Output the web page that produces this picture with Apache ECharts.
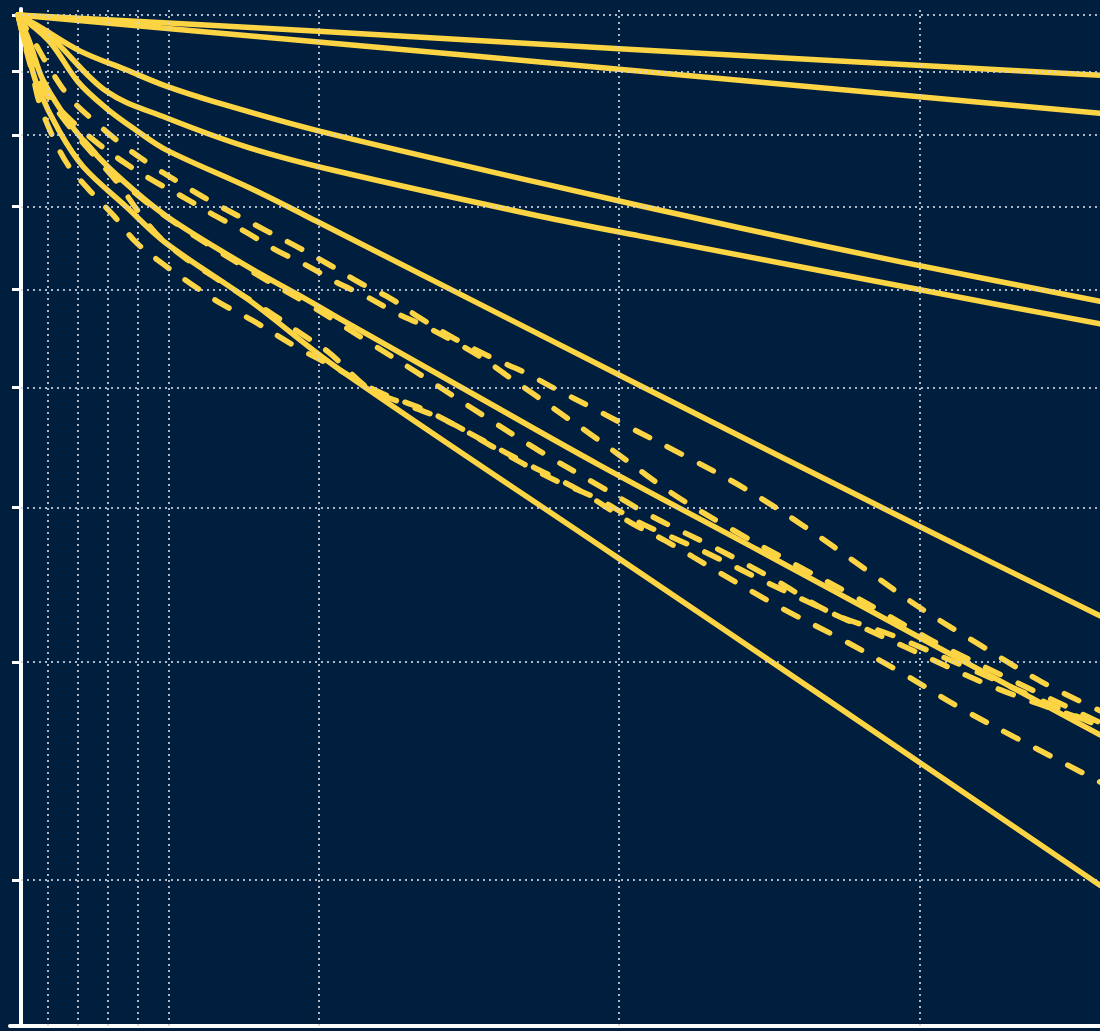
<!DOCTYPE html>
<html>
<head>
<meta charset="utf-8">
<script src="https://cdn.jsdelivr.net/npm/echarts@6/dist/echarts.min.js"></script>
<style>
  html, body { margin: 0; padding: 0; background: #001f3f; }
  #chart { width: 1100px; height: 1031px; }
</style>
</head>
<body>
<div id="chart"></div>
<script>
// Axis ranges
const xMin = -0.0266, xStart = 0.01, xMax = 3.6;
const yMin = 0.1524, yMax = 1.0112;

// Grid / tick values
const xGridValues = [0.1, 0.2, 0.3, 0.4, 0.5, 1, 2, 3];
const yTickValues = [1.0, 0.9, 0.8, 0.7, 0.6, 0.5, 0.4, 0.3, 0.2];

// Solid curves [x, y]
const solidA = [[0,1],[1,0.970],[2,0.939],[3.6,0.894]];
const solidB = [[0,1],[1,0.951],[2,0.904],[3.6,0.833]];
const solidC = [[0,1],[0.06,0.982],[0.207,0.935],[0.36,0.903],[0.493,0.876],[0.66,0.850],[1.0,0.806],[1.733,0.732],[2.4,0.673],[2.933,0.632],[3.6,0.587]];
const solidD = [[0,1],[0.103,0.963],[0.293,0.868],[0.493,0.826],[0.77,0.781],[1.06,0.748],[1.733,0.688],[2.067,0.663],[3.267,0.583],[3.6,0.563]];
const solidE = [[0,1],[0.103,0.953],[0.2,0.883],[0.293,0.841],[0.393,0.807],[0.493,0.778],[0.77,0.725],[1.0,0.680],[2.033,0.507],[3.0,0.386],[3.6,0.327]];
const solidF = [[0,1],[0.037,0.953],[0.083,0.886],[0.16,0.826],[0.217,0.792],[0.327,0.743],[0.493,0.688],[0.77,0.625],[0.933,0.594],[1.067,0.569],[1.533,0.491],[1.933,0.433],[2.467,0.369],[3.0,0.314],[3.6,0.262]];
const solidG = [[0,1],[0.037,0.923],[0.067,0.873],[0.137,0.806],[0.217,0.754],[0.36,0.700],[0.493,0.654],[0.77,0.588],[1.06,0.519],[1.99,0.365],[2.69,0.280],[3.6,0.198]];

// Dashed curves [x, y]
const dashA = [[0,1],[0.05,0.955],[0.107,0.904],[0.173,0.857],[0.253,0.821],[0.343,0.787],[0.437,0.758],[0.533,0.733],[0.633,0.709],[0.733,0.688],[0.833,0.668],[0.937,0.648],[1.037,0.628],[1.14,0.607],[1.24,0.590],[1.333,0.570],[1.45,0.548],[1.58,0.528],[1.68,0.515],[1.793,0.498],[1.907,0.482],[2.007,0.468],[2.213,0.441],[2.413,0.415],[2.61,0.387],[2.823,0.356],[3.0,0.332],[3.207,0.309],[3.407,0.289],[3.6,0.274]];
const dashB = [[0,1],[0.04,0.937],[0.083,0.878],[0.127,0.846],[0.183,0.819],[0.267,0.787],[0.36,0.758],[0.457,0.733],[0.557,0.711],[0.657,0.688],[0.757,0.668],[0.857,0.646],[0.963,0.627],[1.06,0.608],[1.16,0.592],[1.26,0.574],[1.37,0.558],[1.53,0.531],[1.623,0.512],[1.72,0.493],[1.813,0.475],[1.907,0.458],[2.0,0.441],[2.187,0.409],[2.383,0.383],[2.583,0.360],[2.783,0.339],[2.983,0.318],[3.087,0.308],[3.6,0.268]];
const dashC = [[0,1],[0.033,0.940],[0.083,0.873],[0.167,0.815],[0.267,0.763],[0.337,0.729],[0.4,0.694],[0.467,0.663],[0.557,0.636],[0.657,0.613],[0.75,0.593],[0.847,0.573],[0.94,0.553],[1.033,0.534],[1.167,0.499],[1.267,0.487],[1.433,0.469],[1.6,0.445],[1.767,0.423],[1.933,0.406],[2.067,0.389],[2.18,0.378],[2.287,0.368],[2.49,0.348],[2.703,0.329],[2.933,0.310],[3.267,0.285],[3.6,0.267]];
const dashD = [[0,1],[0.023,0.946],[0.047,0.899],[0.07,0.851],[0.11,0.803],[0.167,0.756],[0.237,0.722],[0.317,0.689],[0.393,0.655],[0.483,0.629],[0.577,0.606],[0.673,0.585],[0.777,0.567],[0.933,0.538],[1.067,0.517],[1.2,0.496],[1.367,0.478],[1.533,0.455],[1.7,0.433],[1.867,0.413],[2.037,0.389],[2.153,0.376],[2.337,0.354],[2.537,0.332],[2.74,0.313],[2.94,0.294],[3.14,0.275],[3.34,0.259],[3.6,0.240]];
const dashE = [[0,1],[0.037,0.946],[0.1,0.868],[0.167,0.819],[0.233,0.785],[0.333,0.738],[0.493,0.687],[0.77,0.622],[0.96,0.585],[1.157,0.546],[1.35,0.510],[1.54,0.476],[1.737,0.444],[1.937,0.416],[2.113,0.393],[2.32,0.371],[2.523,0.349],[2.703,0.329],[2.927,0.314],[3.6,0.266]];

const solidCurves = [solidA, solidB, solidC, solidD, solidE, solidF, solidG];
const dashedCurves = [dashA, dashB, dashC, dashD, dashE];

const LINE_COLOR = '#fcd444';
const GRID_COLOR = 'rgba(205,210,220,0.85)';

const chart = echarts.init(document.getElementById('chart'), null, { renderer: 'canvas' });

function curveSeries(data, dashed) {
  return {
    type: 'line',
    data: data,
    showSymbol: false,
    symbol: 'none',
    smooth: 0.35,
    silent: true,
    z: 3,
    lineStyle: {
      color: LINE_COLOR,
      width: 5.5,
      type: dashed ? [16, 20] : 'solid',
      cap: 'round',
      join: 'round'
    }
  };
}

const gridLineData = xGridValues.map(v => [{ coord: [v, yMin] }, { coord: [v, yMax] }])
  .concat(yTickValues.map(v => [{ coord: [xStart, v] }, { coord: [xMax, v] }]));

const series = [{
  type: 'line',
  data: [],
  silent: true,
  z: 1,
  markLine: {
    silent: true,
    symbol: ['none', 'none'],
    label: { show: false },
    animation: false,
    lineStyle: { color: GRID_COLOR, width: 2, type: [2, 4] },
    data: gridLineData
  }
}];
solidCurves.forEach(d => series.push(curveSeries(d, false)));
dashedCurves.forEach(d => series.push(curveSeries(d, true)));

chart.setOption({
  backgroundColor: '#001f3f',
  animation: false,
  grid: { left: 10, right: 0, top: 9, bottom: 5, containLabel: false },
  xAxis: {
    type: 'value',
    min: xMin,
    max: xMax,
    axisLine: { show: true, onZero: false, lineStyle: { color: '#ffffff', width: 4, cap: 'round' } },
    axisTick: { show: false },
    axisLabel: { show: false },
    splitLine: { show: false }
  },
  yAxis: {
    type: 'log',
    logBase: 10,
    min: yMin,
    max: yMax,
    offset: -11,
    axisLine: { show: true, lineStyle: { color: '#ffffff', width: 4, cap: 'round' } },
    axisTick: { show: true, inside: false, length: 9, lineStyle: { color: '#ffffff', width: 3 }, customValues: yTickValues },
    axisLabel: { show: false, customValues: yTickValues },
    splitLine: { show: false },
    minorTick: { show: false },
    minorSplitLine: { show: false }
  },
  series: series
});
</script>
</body>
</html>
